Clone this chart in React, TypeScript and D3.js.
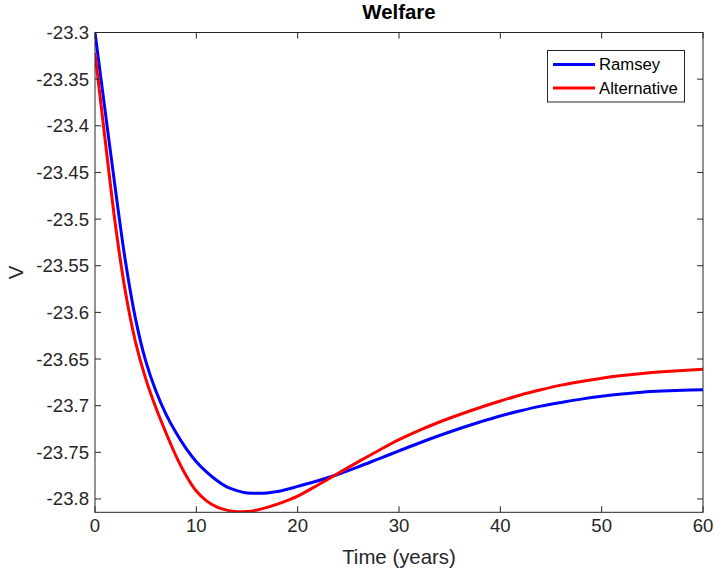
import React from "react";
import * as d3 from "d3";

// time axis (years)
const years = [
  0, 1, 2, 3, 4, 5, 6, 7, 8, 9, 10, 11, 12, 13, 14, 15, 16, 17, 18, 19, 20,
  22, 24, 26, 28, 30, 32, 34, 36, 38, 40, 42, 44, 46, 48, 50, 52, 54, 56, 58, 60,
];

const ramsey = [
  -23.3, -23.384, -23.467, -23.545, -23.607, -23.652, -23.684, -23.709, -23.729,
  -23.746, -23.76, -23.771, -23.78, -23.787, -23.791, -23.7935, -23.794,
  -23.7935, -23.792, -23.7895, -23.7865,
  -23.7805, -23.7735, -23.7655, -23.757, -23.7485, -23.74, -23.732, -23.7245,
  -23.7175, -23.711, -23.7055, -23.7005, -23.6965, -23.693, -23.69, -23.6875,
  -23.6855, -23.6843, -23.6835, -23.683,
];

const alternative = [
  -23.322, -23.415, -23.505, -23.578, -23.632, -23.671, -23.702, -23.729,
  -23.754, -23.775, -23.7915, -23.802, -23.8085, -23.812, -23.8137, -23.8135,
  -23.8118, -23.809, -23.8055, -23.8015, -23.797,
  -23.785, -23.7725, -23.76, -23.748, -23.7365, -23.7265, -23.7175, -23.7095,
  -23.702, -23.695, -23.6885, -23.683, -23.678, -23.674, -23.6705, -23.6677,
  -23.6654, -23.6636, -23.6622, -23.661,
];

const xTicks = [0, 10, 20, 30, 40, 50, 60];
const yTicks = [
  -23.3, -23.35, -23.4, -23.45, -23.5, -23.55, -23.6, -23.65, -23.7, -23.75,
  -23.8,
];

const seriesNames = ["Ramsey", "Alternative"];
const seriesColors = ["#0000ff", "#ff0000"];

const width = 715;
const height = 573;
const left = 95;
const right = 703;
const top = 32.5;
const bottom = 512.3;
const axisColor = "#262626";
const font = "'Liberation Sans', Arial, Helvetica, sans-serif";

export default function App() {
  const x = d3.scaleLinear().domain([0, 60]).range([left, right]);
  const y = d3.scaleLinear().domain([-23.8143, -23.3]).range([bottom, top]);

  const line = d3
    .line<number>()
    .x((_, i) => x(years[i]))
    .y((d) => y(d))
    .curve(d3.curveCatmullRom.alpha(0.5));

  const series = [ramsey, alternative];
  const tickLen = 6;

  return (
    <svg
      width={width}
      height={height}
      style={{ position: "absolute", left: 0, top: 0, background: "#fff" }}
      fontFamily={font}
    >
      <rect x={0} y={0} width={width} height={height} fill="#fff" />

      <defs>
        <clipPath id="plot">
          <rect x={left} y={top - 2} width={right - left} height={bottom - top + 2} />
        </clipPath>
      </defs>

      {/* curves */}
      <g clipPath="url(#plot)">
        {series.map((s, i) => (
          <path
            key={seriesNames[i]}
            d={line(s) || ""}
            fill="none"
            stroke={seriesColors[i]}
            strokeWidth={3}
            strokeLinejoin="round"
          />
        ))}
      </g>

      {/* box */}
      <rect
        x={left}
        y={top}
        width={right - left}
        height={bottom - top}
        fill="none"
        stroke={axisColor}
        strokeWidth={1}
      />

      {/* x ticks */}
      {xTicks.map((t) => (
        <g key={"x" + t}>
          <line x1={x(t)} x2={x(t)} y1={bottom} y2={bottom - tickLen} stroke={axisColor} />
          <line x1={x(t)} x2={x(t)} y1={top} y2={top + tickLen} stroke={axisColor} />
          <text
            x={x(t)}
            y={532}
            textAnchor="middle"
            fontSize={18.6}
            fill={axisColor}
          >
            {String(t)}
          </text>
        </g>
      ))}

      {/* y ticks */}
      {yTicks.map((t) => (
        <g key={"y" + t}>
          <line x1={left} x2={left + tickLen} y1={y(t)} y2={y(t)} stroke={axisColor} />
          <line x1={right} x2={right - tickLen} y1={y(t)} y2={y(t)} stroke={axisColor} />
          <text
            x={89}
            y={y(t)}
            dy="0.35em"
            textAnchor="end"
            fontSize={18.6}
            fill={axisColor}
          >
            {String(t)}
          </text>
        </g>
      ))}

      {/* title and labels */}
      <text
        x={(left + right) / 2}
        y={19}
        textAnchor="middle"
        fontSize={20.4}
        fontWeight="bold"
        fill="#000"
      >
        Welfare
      </text>
      <text
        x={(left + right) / 2}
        y={564}
        textAnchor="middle"
        fontSize={20.4}
        fill={axisColor}
      >
        Time (years)
      </text>
      <text
        transform={`translate(23,${(top + bottom) / 2}) rotate(-90)`}
        textAnchor="middle"
        fontSize={20.4}
        fill={axisColor}
      >
        V
      </text>

      {/* legend */}
      <g>
        <rect
          x={547.5}
          y={50.5}
          width={137}
          height={51.5}
          fill="#fff"
          stroke={axisColor}
          strokeWidth={1}
        />
        {seriesNames.map((n, i) => (
          <g key={n}>
            <line
              x1={553}
              x2={595}
              y1={64.5 + i * 23.5}
              y2={64.5 + i * 23.5}
              stroke={seriesColors[i]}
              strokeWidth={3}
            />
            <text
              x={599}
              y={64.5 + i * 23.5}
              dy="0.35em"
              fontSize={16.7}
              fill="#000"
            >
              {n}
            </text>
          </g>
        ))}
      </g>
    </svg>
  );
}
